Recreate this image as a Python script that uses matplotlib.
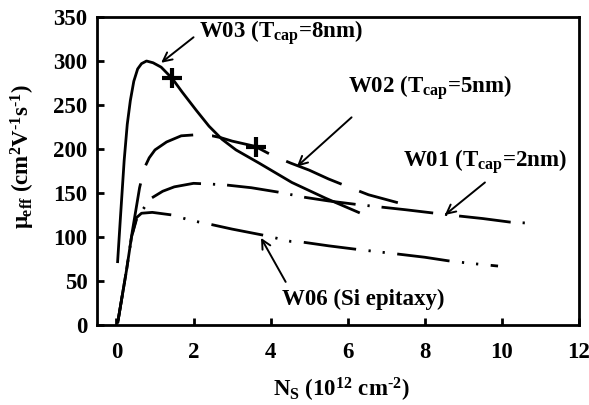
import matplotlib
matplotlib.use('Agg')
import matplotlib.pyplot as plt
import numpy as np

plt.rcParams['font.family'] = 'Liberation Serif'
plt.rcParams['font.weight'] = 'bold'
plt.rcParams['mathtext.fontset'] = 'custom'
plt.rcParams['mathtext.rm'] = 'Liberation Serif:bold'
plt.rcParams['mathtext.it'] = 'Liberation Serif:bold'
plt.rcParams['mathtext.bf'] = 'Liberation Serif:bold'

# W03 (Tcap=8nm), solid
w03_x = [0.03, 0.1, 0.2, 0.28, 0.36, 0.45, 0.55, 0.65, 0.78, 0.95, 1.16, 1.45,
         1.7, 2.07, 2.4, 2.74, 3.1, 3.7, 4.55, 5.43, 6.28]
w03_y = [72, 120, 187, 228, 255, 277, 291, 297, 300, 298, 293, 280,
         265, 244, 226, 211, 199, 184, 162, 144, 128]

# W02 (Tcap=5nm), long dash
w02_x = [0.03, 0.16, 0.26, 0.41, 0.6, 0.72, 0.85, 1.0, 1.3, 1.68, 2.0, 2.48,
         2.7, 3.0, 3.6, 4.03, 4.52, 5.0, 5.5, 6.07, 6.54, 7.3]
w02_y = [2, 36, 62, 106, 156, 178, 190, 199, 208, 215, 216, 215,
         213, 209, 203, 193, 184, 176, 166, 156, 148, 139]

# W01 (Tcap=2nm), dash-dot
w01_x = [0.03, 0.16, 0.26, 0.39, 0.52, 0.68, 0.9, 1.2, 1.5, 2.0, 2.5, 2.87,
         3.5, 4.2, 4.9, 5.5, 6.23, 6.87, 7.5, 8.27, 8.86, 9.5, 10.2, 10.6]
w01_y = [2, 36, 62, 100, 120, 131, 144, 152, 157, 161, 160, 159,
         156, 151, 145, 141, 137, 134, 131, 127, 124, 121, 117, 116]

# W06 (Si epitaxy), dash-dot-dot
w06_x = [0.03, 0.16, 0.26, 0.39, 0.52, 0.65, 0.93, 1.45, 1.84, 2.14, 2.48, 3.0,
         3.82, 4.52, 4.86, 5.5, 6.23, 7.23, 8.0, 8.6, 9.2, 9.9]
w06_y = [2, 36, 62, 100, 122, 127, 128, 125, 120, 117, 114, 109,
         102, 95, 94, 90, 86, 81, 77, 73, 70, 67]

# cross markers
mark_x = [1.45, 3.62]
mark_y = [281, 202]

# labels: (text, text x, text y, arrow tail, arrow head)
labels = [
    (r'W03 (T$_{cap}$=8nm)', 2.14, 326, (2.0, 327), (1.16, 298)),
    (r'W02 (T$_{cap}$=5nm)', 6.02, 264, (6.1, 236), (4.68, 180)),
    (r'W01 (T$_{cap}$=2nm)', 7.44, 180, (9.56, 162), (8.52, 125)),
    ('W06 (Si epitaxy)', 4.29, 23, (4.39, 49), (3.75, 99)),
]

HY = '\u2010'  # plain hyphen for the exponents
DPI = 100

fig = plt.figure(figsize=(5.89, 4.05), dpi=DPI)
ax = fig.add_axes([0.165, 0.1975, 0.818, 0.7605])
ax.set_xlim(-0.5, 12)
ax.set_ylim(0, 350)

lw = 2.0


def dashed(xs, ys, pattern, x_start):
    # shift the dash pattern so that a dash begins near x_start
    pts = ax.transData.transform(np.column_stack([xs, ys]))
    cum = np.concatenate([[0], np.cumsum(np.hypot(*np.diff(pts, axis=0).T))])
    length = np.interp(x_start, xs, cum) / (lw * DPI / 72)
    off = (-length) % sum(pattern)
    ax.plot(xs, ys, color='black', lw=lw, linestyle=(off, pattern),
            dash_capstyle='butt')


ax.plot(w03_x, w03_y, color='black', lw=lw, linestyle='-')
dashed(w02_x, w02_y, (21.6, 6.8), 2.48)
dashed(w01_x, w01_y, (18.7, 4.3, 0.8, 4.3), 2.87)
dashed(w06_x, w06_y, (19, 4.5, 0.8, 4.3, 0.8, 4.5), 4.86)
ax.plot(mark_x, mark_y, linestyle='none', marker='+', markersize=15,
        markeredgewidth=3, color='black')

fs = 16.5
for txt, tx, ty, tail, head in labels:
    ax.text(tx, ty, txt, fontsize=fs, fontweight='bold', va='baseline')
    ax.annotate('', xy=head, xytext=tail,
                arrowprops=dict(arrowstyle='->', color='black', lw=1.4,
                                mutation_scale=16, shrinkA=0, shrinkB=0))

ax.set_xticks([0, 2, 4, 6, 8, 10, 12])
ax.set_yticks(range(0, 351, 50))
ax.tick_params(axis='both', direction='in', length=5, width=2,
               labelsize=fs)
ax.tick_params(axis='x', pad=12)
ax.tick_params(axis='y', pad=7)
for lab in ax.get_xticklabels() + ax.get_yticklabels():
    lab.set_fontweight('bold')
for s in ax.spines.values():
    s.set_linewidth(2)

fig.text(341 / 589, 1 - 397 / 405,
         'N$_{S}$ (10$^{12}$ cm$^{' + HY + '2}$)',
         fontsize=fs, fontweight='bold', ha='center', va='baseline')
fig.text(23 / 589, 1 - 157 / 405,
         '$\\mu_{eff}$ (cm$^{2}$V$^{' + HY + '1}$s$^{' + HY + '1}$)',
         fontsize=fs, fontweight='bold', ha='center', va='center',
         rotation=90)

fig.savefig('out.png', dpi=DPI)
